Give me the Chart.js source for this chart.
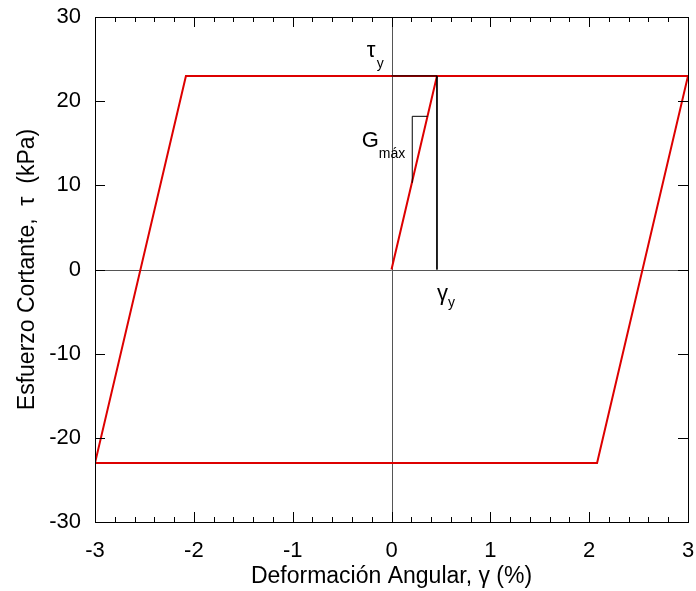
<!DOCTYPE html>
<html>
<head>
<meta charset="utf-8">
<script src="https://cdn.jsdelivr.net/npm/chart.js@4.4.0/dist/chart.umd.min.js"></script>
<style>
  html, body { margin: 0; padding: 0; background: #fff; }
  #wrap { width: 696px; height: 591px; }
</style>
</head>
<body>
<div id="wrap"><canvas id="chart" width="696" height="591"></canvas></div>
<script>
// hysteresis loop (elastic - perfectly plastic)
const loopStrain = [0, 0.46, 3, 2.08, -3, -2.08, 3];
const loopStress = [0, 23, 23, -23, -23, 23, 23];

// yield point guides
const yieldStrain = [0, 0.46, 0.46];
const yieldStress = [23, 23, 0];

// slope triangle for G max
const slopeStrain = [0.21, 0.21, 0.365];
const slopeStress = [10.3, 18.2, 18.2];

const xMajorStep = 1;
const xMinorStep = 0.2;
const yMajorStep = 10;

const FONT = 'Liberation Sans, Arial, sans-serif';

function toPoints(xs, ys) {
    return xs.map((v, i) => ({ x: v, y: ys[i] }));
}

// zero lines under the data, frame + inward ticks + labels on top
const framePlugin = {
    id: 'frame',
    beforeDatasetsDraw(chart) {
        const { ctx, chartArea: a, scales: { x, y } } = chart;
        ctx.save();
        ctx.strokeStyle = '#555';
        ctx.lineWidth = 1;
        const x0 = Math.round(x.getPixelForValue(0)) + 0.5;
        const y0 = Math.round(y.getPixelForValue(0)) + 0.5;
        ctx.beginPath();
        ctx.moveTo(x0, a.top);
        ctx.lineTo(x0, a.bottom);
        ctx.moveTo(a.left, y0);
        ctx.lineTo(a.right, y0);
        ctx.stroke();
        ctx.restore();
    },
    afterDraw(chart) {
        const { ctx, chartArea: a, scales: { x, y } } = chart;
        ctx.save();
        ctx.strokeStyle = '#000';
        ctx.lineWidth = 1;
        ctx.strokeRect(Math.round(a.left) + 0.5, Math.round(a.top) + 0.5,
            Math.round(a.right - a.left), Math.round(a.bottom - a.top));

        ctx.beginPath();
        const n = Math.round((x.max - x.min) / xMinorStep);
        for (let i = 0; i <= n; i++) {
            const v = x.min + i * xMinorStep;
            const px = Math.round(x.getPixelForValue(v)) + 0.5;
            const major = Math.abs(v / xMajorStep - Math.round(v / xMajorStep)) < 1e-6;
            const len = major ? 10 : 5;
            ctx.moveTo(px, a.bottom);
            ctx.lineTo(px, a.bottom - len);
            ctx.moveTo(px, a.top);
            ctx.lineTo(px, a.top + len);
        }
        for (let v = y.min; v <= y.max + 1e-6; v += yMajorStep) {
            const py = Math.round(y.getPixelForValue(v)) + 0.5;
            ctx.moveTo(a.left, py);
            ctx.lineTo(a.left + 10, py);
            ctx.moveTo(a.right, py);
            ctx.lineTo(a.right - 10, py);
        }
        ctx.stroke();

        // annotations
        ctx.fillStyle = '#000';
        ctx.textBaseline = 'alphabetic';
        ctx.textAlign = 'left';
        const big = '22px ' + FONT;
        const small = '14px ' + FONT;

        // tau_y
        let px = x.getPixelForValue(-0.25);
        let py = y.getPixelForValue(25.3);
        ctx.font = big;
        ctx.fillText('τ', px, py);
        ctx.font = small;
        ctx.fillText('y', px + 10, py + 11);

        // G max
        px = x.getPixelForValue(-0.3);
        py = y.getPixelForValue(14.5);
        ctx.font = big;
        ctx.fillText('G', px, py);
        ctx.font = small;
        ctx.fillText('máx', px + 17, py + 11);

        // gamma_y
        px = x.getPixelForValue(0.46);
        py = y.getPixelForValue(-3.6);
        ctx.font = big;
        ctx.fillText('γ', px, py);
        ctx.font = small;
        ctx.fillText('y', px + 11, py + 7);
        ctx.restore();
    }
};

const ctx = document.getElementById('chart').getContext('2d');
new Chart(ctx, {
    type: 'scatter',
    data: {
        datasets: [
            {
                data: toPoints(yieldStrain, yieldStress),
                showLine: true,
                borderColor: '#000',
                borderWidth: 1,
                pointRadius: 0,
                order: 1
            },
            {
                data: toPoints(slopeStrain, slopeStress),
                showLine: true,
                borderColor: '#000',
                borderWidth: 1,
                pointRadius: 0,
                order: 1
            },
            {
                data: toPoints(loopStrain, loopStress),
                showLine: true,
                borderColor: '#dd0000',
                borderWidth: 2,
                pointRadius: 0,
                order: 2
            }
        ]
    },
    options: {
        responsive: false,
        devicePixelRatio: 1,
        animation: false,
        layout: { padding: { top: 17, right: 8, left: 0, bottom: 0 } },
        plugins: {
            legend: { display: false },
            tooltip: { enabled: false }
        },
        scales: {
            x: {
                type: 'linear',
                min: -3,
                max: 3,
                grid: { display: false, drawTicks: false },
                border: { display: false },
                ticks: {
                    stepSize: xMajorStep,
                    color: '#000',
                    padding: 16,
                    font: { family: FONT, size: 22 }
                },
                title: {
                    display: true,
                    text: 'Deformación Angular, γ (%)',
                    color: '#000',
                    padding: { top: 0, bottom: 1 },
                    font: { family: FONT, size: 23 }
                },
                afterFit(scale) {
                    scale.height = 69;
                    scale.paddingLeft = 0;
                    scale.paddingRight = 0;
                }
            },
            y: {
                type: 'linear',
                min: -30,
                max: 30,
                grid: { display: false, drawTicks: false },
                border: { display: false },
                ticks: {
                    stepSize: yMajorStep,
                    color: '#000',
                    padding: 14,
                    font: { family: FONT, size: 22 }
                },
                title: {
                    display: true,
                    text: 'Esfuerzo Cortante,  τ  (kPa)',
                    color: '#000',
                    padding: { top: 14, bottom: 0 },
                    font: { family: FONT, size: 23 }
                },
                afterFit(scale) {
                    scale.width = 95;
                    scale.paddingTop = 0;
                    scale.paddingBottom = 0;
                }
            }
        }
    },
    plugins: [framePlugin]
});
</script>
</body>
</html>
